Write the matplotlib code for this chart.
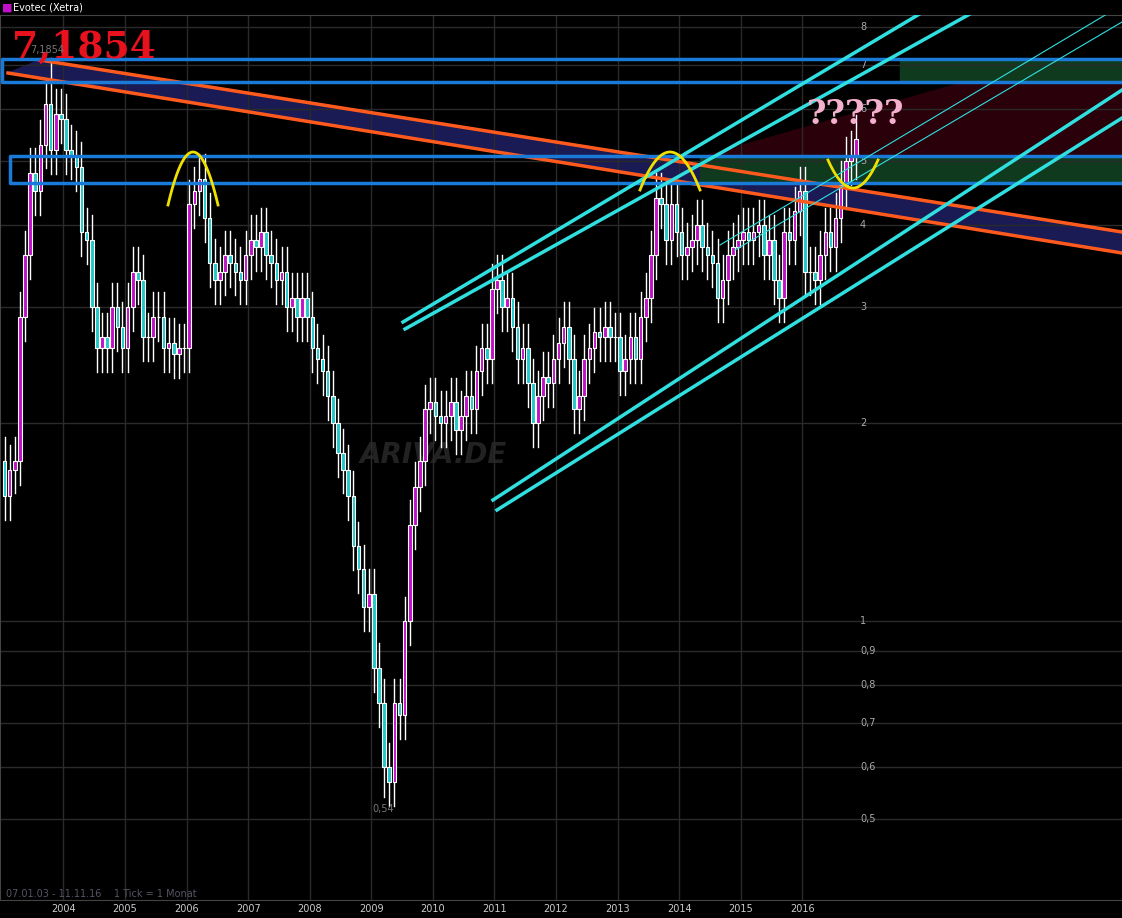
import numpy as np
import matplotlib.pyplot as plt
from matplotlib.transforms import blended_transform_factory

# monthly closes, Jan 2003 .. Nov 2016
closes = [
    1.55, 1.70, 1.75, 2.90, 3.60, 4.80, 4.50, 5.30, 6.10, 5.20, 5.90, 5.80,   # 2003
    5.20, 5.10, 4.90, 3.90, 3.80, 3.00, 2.60, 2.70, 2.60, 3.00, 2.80, 2.60,   # 2004
    3.00, 3.40, 3.30, 2.70, 2.70, 2.90, 2.90, 2.60, 2.65, 2.55, 2.60, 2.60,   # 2005
    4.30, 4.50, 4.70, 4.10, 3.50, 3.30, 3.40, 3.60, 3.50, 3.40, 3.30, 3.60,   # 2006
    3.80, 3.70, 3.90, 3.60, 3.50, 3.30, 3.40, 3.00, 3.10, 2.90, 3.10, 2.90,   # 2007
    2.60, 2.50, 2.40, 2.20, 2.00, 1.80, 1.70, 1.55, 1.30, 1.20, 1.05, 1.10,   # 2008
    0.85, 0.75, 0.60, 0.57, 0.75, 0.72, 1.00, 1.40, 1.60, 1.75, 2.10, 2.15,   # 2009
    2.05, 2.00, 2.05, 2.15, 1.95, 2.05, 2.20, 2.10, 2.40, 2.60, 2.50, 3.20,   # 2010
    3.30, 3.00, 3.10, 2.80, 2.50, 2.60, 2.30, 2.00, 2.20, 2.35, 2.30, 2.50,   # 2011
    2.65, 2.80, 2.50, 2.10, 2.20, 2.50, 2.60, 2.75, 2.70, 2.80, 2.70, 2.70,   # 2012
    2.40, 2.50, 2.70, 2.50, 2.90, 3.10, 3.60, 4.40, 4.30, 3.80, 4.30, 3.90,   # 2013
    3.60, 3.70, 3.80, 4.00, 3.70, 3.60, 3.50, 3.10, 3.30, 3.60, 3.70, 3.80,   # 2014
    3.90, 3.80, 3.90, 4.00, 3.60, 3.80, 3.30, 3.10, 3.90, 3.80, 4.20, 4.50,   # 2015
    3.40, 3.40, 3.30, 3.60, 3.90, 3.70, 4.10, 4.60, 5.00, 5.10, 5.40,         # 2016
]
first_open = 1.75
years = list(range(2004, 2017))
price_ticks = [0.5, 0.6, 0.7, 0.8, 0.9, 1, 2, 3, 4, 5, 6, 7, 8]
price_labels = ['0,5', '0,6', '0,7', '0,8', '0,9', '1', '2', '3', '4', '5', '6', '7', '8']
ath_idx, ath = 9, 7.1854
low_idx, low = 74, 0.54

closes = np.array(closes)
opens = np.concatenate([[first_open], closes[:-1]])
highs = np.maximum(opens, closes) * 1.09
lows = np.minimum(opens, closes) * 0.92
highs[ath_idx] = ath
lows[low_idx] = low
idx = np.arange(len(closes))

W, H = 1122, 918
fig = plt.figure(figsize=(W / 100, H / 100), dpi=100, facecolor='black')
rect = [0, 18 / H, 1, 885 / H]

# back layer for fills, in picture pixels
back = fig.add_axes(rect, facecolor='black')
back.set_xlim(0, W)
back.set_ylim(900, 15)
back.axis('off')
ax = fig.add_axes(rect)
ax.patch.set_alpha(0)
front = fig.add_axes(rect)
front.patch.set_alpha(0)
front.set_xlim(0, W)
front.set_ylim(900, 15)
front.axis('off')

ax.set_yscale('log')

def mx(x):
    return (x - 4.5) / 5.13

def py(y):
    return 8 * 10 ** (-(y - 27) / 658)

ax.set_xlim(mx(0), mx(W))
ax.set_ylim(py(900), py(15))

for t in price_ticks:
    ax.axhline(t, color='#2a2a2a', lw=1, zorder=0)
for k in range(len(years)):
    ax.axvline(12 * (k + 1) - 0.5, color='#2a2a2a', lw=1, zorder=0)

# fills
back.fill([8, 40, W, W], [73, 60, 232, 253], color='#1a1a55', zorder=1)
back.fill([705, 965, W, W], [156, 82, 82, 156], color='#2a000a', zorder=1)
back.fill([900, W, W, 900], [60, 60, 82, 82], color='#0f3a1e', zorder=1)
back.fill([700, W, W, 700], [156, 156, 183, 183], color='#0f3a1e', zorder=1)
back.text(360, 463, 'ARIVA.DE', color='#222222', fontsize=20, fontweight='bold', style='italic')

# candles
for i in idx:
    up = closes[i] >= opens[i]
    col = '#c010c8' if up else '#20c8c8'
    ax.plot([i, i], [lows[i], highs[i]], color='white', lw=1, zorder=4)
    lo, hi = sorted([opens[i], closes[i]])
    ax.bar(i, hi - lo, bottom=lo, width=0.7, color=col, edgecolor='white', lw=0.8, zorder=5)

# orange channel
front.plot([8, W], [73, 253], color='#ff5a1e', lw=2.5)
front.plot([40, W], [60, 232], color='#ff5a1e', lw=2.5)
# blue rectangles
front.plot([W, 2, 2, W], [59, 59, 82, 82], color='#1a7ad8', lw=2.5)
front.plot([W, 10, 10, W], [156, 156, 183, 183], color='#1a7ad8', lw=2.5)

# cyan trend lines
cyan = '#30e0e0'
for (x0, y0, x1, y1, lw) in [(403, 322, 943, 0, 2.5), (405, 329, 995, 0, 2.5),
                              (493, 500, W, 90, 2.5), (497, 510, W, 118, 2.5),
                              (720, 245, W, 5, 0.8), (735, 250, W, 22, 0.8)]:
    front.plot([x0, x1], [y0, y1], color=cyan, lw=lw)

# yellow arcs
for (xa, xb, ytop, yend) in [(168, 218, 152, 205), (640, 700, 152, 190), (828, 878, 188, 160)]:
    t = np.linspace(-1, 1, 50)
    front.plot((xa + xb) / 2 + t * (xb - xa) / 2, ytop + (yend - ytop) * t ** 2, color='#f0e000', lw=2)

# texts
front.text(12, 58, '7,1854', color='#e8121e', fontsize=27, fontweight='bold', family='DejaVu Serif')
front.text(30, 53, '7,1854', color='#777777', fontsize=7)
front.text(372, 812, '0,54', color='#777777', fontsize=7)
front.text(807, 124, '?????', color='#f4b0cc', fontsize=24, fontweight='bold', family='DejaVu Serif')
front.text(6, 897, '07.01.03 - 11.11.16    1 Tick = 1 Monat', color='#555566', fontsize=7)

trans = blended_transform_factory(ax.transAxes, ax.transData)
for t, lab in zip(price_ticks, price_labels):
    ax.text(860 / W, t, lab, color='#aaaaaa', fontsize=7, va='center', transform=trans, zorder=3)

ax.set_xticks([12 * (k + 1) - 0.5 for k in range(len(years))])
ax.set_xticklabels([str(y) for y in years], color='#cccccc', fontsize=7)
ax.tick_params(axis='x', length=0, pad=3)
ax.set_yticks([])
ax.set_yticks([], minor=True)
for s in ax.spines.values():
    s.set_color('#444444')

fig.text(2 / W, 1 - 8 / H, '\u25a0', color='#c010c8', fontsize=8, va='center')
fig.text(13 / W, 1 - 8 / H, 'Evotec (Xetra)', color='white', fontsize=7, va='center')

fig.savefig('out.png', dpi=100, facecolor='black')
